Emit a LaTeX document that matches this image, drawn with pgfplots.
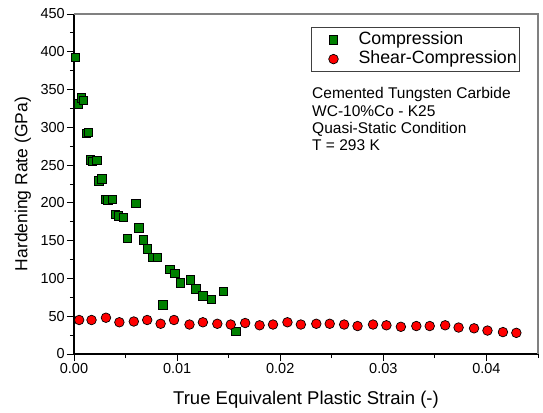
\documentclass[border=0pt]{standalone}
\usepackage{fontspec}
\setmainfont{Liberation Sans}
\usepackage{pgfplots}
\pgfplotsset{compat=1.18}
\definecolor{sqgreen}{RGB}{0,128,0}
\begin{document}
\begin{tikzpicture}
\path[use as bounding box] (-74pt,-58pt) rectangle (469pt,354pt);
\begin{axis}[
  scale only axis, width=464pt, height=340pt,
  xmin=0, xmax=0.045, ymin=0, ymax=450,
  axis x line*=bottom, axis y line*=left,
  axis line style={line width=1.3pt, -},
  xtick={0,0.01,0.02,0.03,0.04}, minor xtick={0.005,0.015,0.025,0.035,0.045},
  ytick={0,50,...,450}, minor ytick={25,75,...,425},
  tick align=outside, major tick length=7pt, minor tick length=4pt,
  tick style={black, line width=0.9pt},
  xticklabel style={inner sep=2pt, /pgf/number format/fixed, /pgf/number format/fixed zerofill, /pgf/number format/precision=2},
  /pgf/number format/assume math mode=true,
  scaled x ticks=false,
  tick label style={font=\fontsize{14.5}{16}\selectfont},
  yticklabel style={inner sep=2pt},
  xlabel={True Equivalent Plastic Strain (-)},
  ylabel={Hardening Rate (GPa)},
  xlabel style={font=\fontsize{18.5}{20}\selectfont, yshift=-12pt},
  ylabel style={font=\fontsize{17.5}{20}\selectfont, yshift=4pt},
  legend style={at={(rel axis cs:0.511,0.961)}, anchor=north west, draw=black!75, line width=0.8pt,
    font=\fontsize{17.8}{19}\selectfont, inner xsep=3pt, inner ysep=2.5pt, row sep=0pt,
    nodes={inner sep=0pt, text height=14.3pt, text depth=5pt}},
  legend cell align=left,
  legend image code/.code={\path[draw=none,fill=none] (0pt,-5pt) rectangle (44pt,5pt); \draw[#1] plot coordinates {(19pt,0pt)};},
  clip=false,
]
\addplot[only marks, mark=square*, mark size=4.2pt, mark options={fill=sqgreen, draw=black, line width=0.7pt}] coordinates {
(0.00016,393) (0.0004,331) (0.0007,339) (0.0009,336) (0.0012,292) (0.0014,293)
(0.0016,257) (0.0018,255) (0.0022,256) (0.0024,229) (0.0027,232)
(0.0031,205) (0.0033,204) (0.0037,205) (0.0040,185) (0.0043,183) (0.0048,181)
(0.0052,153) (0.0060,199) (0.0063,167) (0.0067,151) (0.0071,139) (0.0076,128)
(0.0081,128) (0.0086,65) (0.0093,112) (0.0098,107) (0.0103,94) (0.0113,98)
(0.0118,86) (0.0125,77) (0.0133,72) (0.0145,83) (0.0157,30)
};
\addlegendentry{Compression}
\addplot[only marks, mark=*, mark size=4.8pt, mark options={fill=red, draw=black, line width=0.7pt}] coordinates {
(0.0005,45) (0.0017,45) (0.0031,48) (0.0044,42) (0.0058,43) (0.0071,45)
(0.0084,40) (0.0097,45) (0.0112,39) (0.0125,42) (0.0139,40) (0.0152,39)
(0.0166,41) (0.0180,38) (0.0193,39) (0.0207,42) (0.0220,39) (0.0235,40)
(0.0248,40) (0.0262,39) (0.0275,37) (0.0290,39) (0.0303,38) (0.0317,36)
(0.0332,37) (0.0345,37) (0.0360,38) (0.0373,35) (0.0388,34) (0.0401,31)
(0.0416,29) (0.0429,28)
};
\addlegendentry{Shear-Compression}
\draw[gray, line width=1.3pt] (rel axis cs:0,1) -- (rel axis cs:1,1) -- (rel axis cs:1,0);
\node[anchor=base west, align=left, font=\fontsize{15.5}{17.3}\selectfont, inner sep=0pt]
  at ([yshift=-136.7pt]rel axis cs:0.513,1) {Cemented Tungsten Carbide\\WC-10\%Co - K25\\Quasi-Static Condition\\T = 293 K};
\end{axis}
\end{tikzpicture}
\end{document}
